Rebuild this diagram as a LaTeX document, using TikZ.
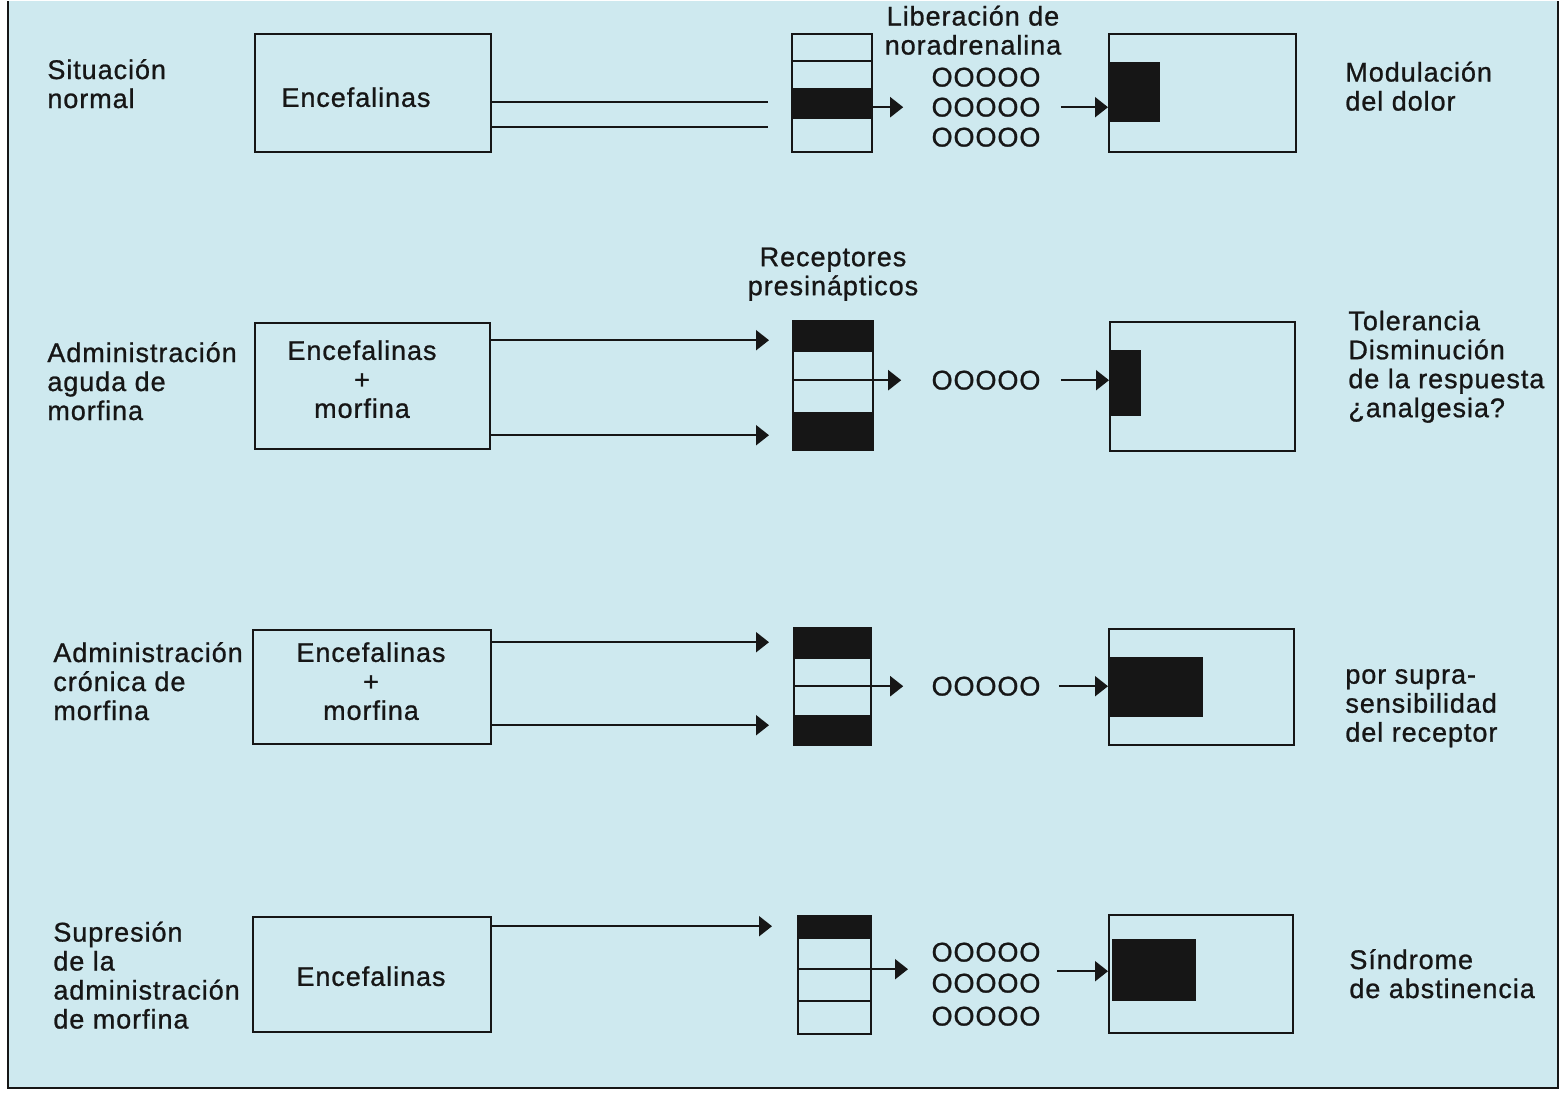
\documentclass[tikz,border=0pt]{standalone}
\usepackage{fontspec}
\setmainfont{Liberation Sans}[LetterSpace=3.5, FakeBold=0.9]
\usetikzlibrary{arrows.meta,fit}
\definecolor{bg}{HTML}{CEE9EF}
\definecolor{ink}{HTML}{161616}
\begin{document}
\begin{tikzpicture}[x=0.5pt,y=-0.5pt,
  txt/.style={font=\fontsize{13.5}{14.5}\selectfont, text=ink, inner sep=0},
  lbl/.style={txt, align=left, anchor=west},
  ctr/.style={txt, align=center},
  box/.style={draw=ink, line width=1pt, inner sep=0},
  blk/.style={fill=ink, inner sep=0},
  ln/.style={draw=ink, line width=1pt},
  arr/.style={draw=ink, line width=1pt, -{Triangle[length=6.5pt,width=10pt]}}]
% background and frame
\fill[white] (0,0) rectangle (1563,1093);
\fill[bg] (8,0) rectangle (1558,1087);
\draw[ink, line width=1.2pt] (8,0) -- (8,1087) -- (1558,1087) -- (1558,0);

% ---------- Row 1 ----------
\node[lbl] (s1) at (47,82.5) {Situación\\normal};
\node[box, fit={(255,33) (491,151)}] (e1) {};
\node[ctr] (t1) at (356,96) {Encefalinas};
\node[blk, fit={(792,87) (872,118)}] (r1b) {};
\node[box, fit={(792,33) (872,151)}] (r1) {};
\draw[ln] (r1.west |- 0,60) -- (r1.east |- 0,60);
\coordinate (c1a) at (768,101);
\coordinate (c1b) at (768,126);
\draw[ln] (e1.east |- c1a) -- (c1a);
\draw[ln] (e1.east |- c1b) -- (c1b);
\node[ctr] (lib) at (973,29) {Liberación de\\noradrenalina};
\node[ctr] (o1a) at (986,76) {OOOOO};
\node[ctr] (o1b) at (986,106) {OOOOO};
\node[ctr] (o1c) at (986,136) {OOOOO};
\draw[arr, shorten >=14pt] (r1.east |- o1b) -- (o1b.west);
\node[blk, fit={(1109,61) (1160,121)}] (m1b) {};
\node[box, fit={(1109,33) (1296,151)}] (m1) {};
\draw[arr, shorten <=10pt] (o1b.east) -- (m1.west |- o1b);
\node[lbl] (d1) at (1345,85) {Modulación\\del dolor};

% ---------- Row 2 ----------
\node[ctr] (rp) at (833,273) {Receptores\\presinápticos};
\node[lbl] (s2) at (47,380) {Administración\\aguda de\\morfina};
\node[box, fit={(255,322) (490,448)}] (e2) {};
\node[ctr] (t2) at (362,378) {Encefalinas\\+\\morfina};
\node[blk, fit={(793,320) (873,351)}] (r2a) {};
\node[blk, fit={(793,411) (873,449)}] (r2c) {};
\node[box, fit={(793,320) (873,449)}] (r2) {};
\draw[arr, shorten >=11.5pt] (e2.east |- 0,339) -- (r2.west |- 0,339);
\draw[arr, shorten >=11.5pt] (e2.east |- 0,434) -- (r2.west |- 0,434);
\node[ctr] (o2) at (986,379) {OOOOO};
\draw[arr, shorten >=15pt] (r2.west |- o2) -- (o2.west);
\node[blk, fit={(1110,349) (1141,415)}] (m2b) {};
\node[box, fit={(1110,321) (1295,450)}] (m2) {};
\draw[arr, shorten <=10pt] (o2.east) -- (m2.west |- o2);
\node[lbl] (d2) at (1348,365.5) {Tolerancia\\Disminución\\de la respuesta\\¿analgesia?};

% ---------- Row 3 ----------
\node[lbl] (s3) at (53,680) {Administración\\crónica de\\morfina};
\node[box, fit={(253,629) (491,743)}] (e3) {};
\node[ctr] (t3) at (371,680) {Encefalinas\\+\\morfina};
\node[blk, fit={(794,627) (871,658)}] (r3a) {};
\node[blk, fit={(794,714) (871,744)}] (r3c) {};
\node[box, fit={(794,627) (871,744)}] (r3) {};
\draw[arr, shorten >=12pt] (e3.east |- 0,641) -- (r3.west |- 0,641);
\draw[arr, shorten >=12pt] (e3.east |- 0,724) -- (r3.west |- 0,724);
\node[ctr] (o3) at (986,685) {OOOOO};
\draw[arr, shorten >=14pt] (r3.west |- o3) -- (o3.west);
\node[blk, fit={(1110,656) (1203,716)}] (m3b) {};
\node[box, fit={(1109,628) (1294,744)}] (m3) {};
\draw[arr, shorten <=9pt] (o3.east) -- (m3.west |- o3);
\node[lbl] (d3) at (1345,707) {por supra-\\sensibilidad\\del receptor};

% ---------- Row 4 ----------
\node[lbl] (s4) at (53,974) {Supresión\\de la\\administración\\de morfina};
\node[box, fit={(253,916) (491,1031)}] (e4) {};
\node[ctr] (t4) at (371,975) {Encefalinas};
\node[blk, fit={(798,915) (871,938)}] (r4a) {};
\node[box, fit={(798,915) (871,1033)}] (r4) {};
\draw[ln] (r4.west |- 0,1000) -- (r4.east |- 0,1000);
\draw[arr, shorten >=12.5pt] (e4.east |- 0,925) -- (r4.west |- 0,925);
\node[ctr] (o4a) at (986,951) {OOOOO};
\node[ctr] (o4b) at (986,982) {OOOOO};
\node[ctr] (o4c) at (986,1015) {OOOOO};
\coordinate (tip4) at (908,968);
\draw[arr] (r4.west |- tip4) -- (tip4);
\node[blk, fit={(1112,938) (1196,1000)}] (m4b) {};
\node[box, fit={(1109,914) (1293,1032)}] (m4) {};
\coordinate (st4) at (1057,970);
\draw[arr] (st4) -- (m4.west |- st4);
\node[lbl] (d4) at (1349,972.5) {Síndrome\\de abstinencia};
\end{tikzpicture}
\end{document}
